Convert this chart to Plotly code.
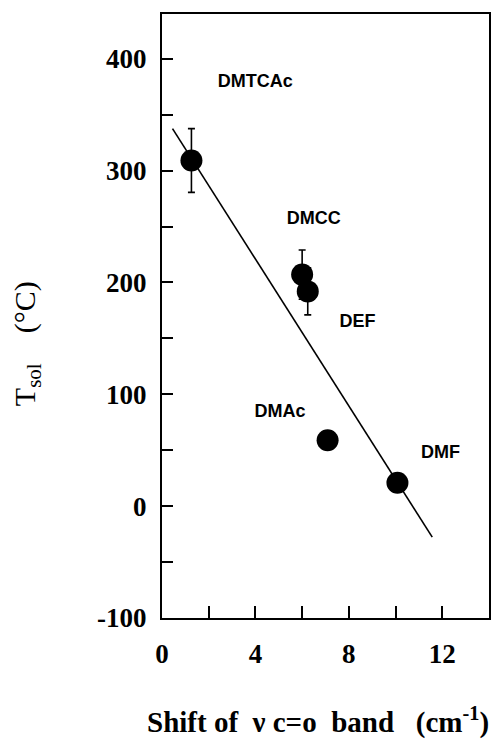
import plotly.graph_objects as go

# Data
solvents = ["DMTCAc", "DMCC", "DEF", "DMAc", "DMF"]
shift = [1.26, 6.0, 6.24, 7.09, 10.08]          # shift of nu C=O band (cm-1)
t_sol = [309, 207, 192, 59, 21]                 # Tsol (deg C)
t_err = [28.5, 22, 21, 0, 0]                    # error bars

fit_x = [0.45, 11.57]
fit_y = [337.5, -27.7]

label_x = [3.99, 6.5, 8.37, 5.05, 11.92]
label_y = [379, 256, 164, 84, 47]

x_ticks = [0, 4, 8, 12]
y_ticks = [-100, 0, 100, 200, 300, 400]

fig = go.Figure()

fig.add_trace(go.Scatter(
    x=fit_x, y=fit_y, mode="lines",
    line=dict(color="black", width=1.6), showlegend=False, hoverinfo="skip"))

fig.add_trace(go.Scatter(
    x=shift, y=t_sol, mode="markers",
    marker=dict(color="black", size=22),
    error_y=dict(type="data", array=t_err, visible=True, color="black",
                 thickness=1.6, width=3.5),
    showlegend=False))

fig.add_trace(go.Scatter(
    x=label_x, y=label_y, mode="text", text=solvents,
    textfont=dict(family="Liberation Sans", size=18, color="black", weight="bold"),
    showlegend=False, hoverinfo="skip"))

serif_bold = dict(family="Liberation Serif", size=27, color="black", weight="bold")

fig.update_xaxes(
    range=[0, 14], tickmode="array", tickvals=x_ticks,
    ticktext=[str(v) for v in x_ticks],
    ticks="inside", ticklen=12, tickwidth=1.6, tickcolor="black",
    minor=dict(dtick=2, tick0=0, ticks="inside", ticklen=12, tickwidth=1.6, tickcolor="black"),
    showline=True, linecolor="black", linewidth=2, mirror=True,
    showgrid=False, zeroline=False,
    tickfont=serif_bold, ticklabelstandoff=11)

fig.update_yaxes(
    range=[-100, 440], tickmode="array", tickvals=y_ticks,
    ticktext=[str(v) for v in y_ticks],
    ticks="inside", ticklen=11, tickwidth=1.6, tickcolor="black",
    minor=dict(dtick=50, tick0=0, ticks="inside", ticklen=11, tickwidth=1.6, tickcolor="black"),
    showline=True, linecolor="black", linewidth=2, mirror=True,
    showgrid=False, zeroline=False,
    tickfont=serif_bold, ticklabelstandoff=8)

fig.add_annotation(
    xref="paper", yref="paper", x=0.477, y=-0.169,
    text="Shift of\u00a0\u00a0\u03bd c=o\u00a0 band\u00a0\u00a0 (cm<sup>-1</sup>)",
    showarrow=False, font=dict(family="Liberation Serif", size=29, color="black", weight="bold"),
    xanchor="center", yanchor="middle")

fig.add_annotation(
    xref="paper", yref="paper", x=-0.413, y=0.455,
    text="T<sub>sol</sub>\u00a0\u00a0\u00a0 (\u00b0C)",
    textangle=-90, showarrow=False,
    font=dict(family="Liberation Serif", size=30, color="black"),
    xanchor="center", yanchor="middle")

fig.update_layout(
    width=502, height=740,
    margin=dict(l=162, r=13, t=14, b=122),
    paper_bgcolor="white", plot_bgcolor="white")

fig.write_html("out.html")
